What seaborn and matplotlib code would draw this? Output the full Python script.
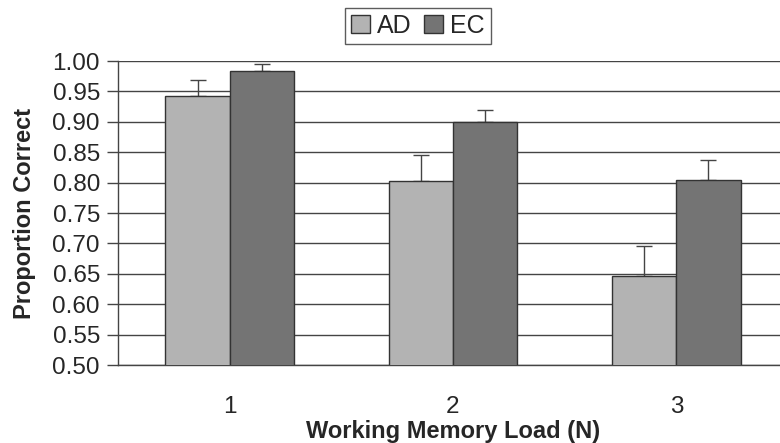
import matplotlib
matplotlib.use("Agg")
import matplotlib.pyplot as plt
import seaborn as sns
import pandas as pd
import numpy as np

loads = ["1", "2", "3"]
groups = ["AD", "EC"]
ad_means = [0.942, 0.803, 0.647]
ec_means = [0.984, 0.900, 0.804]
ad_err = [0.026, 0.042, 0.049]
ec_err = [0.011, 0.019, 0.033]
yticks = [0.50, 0.55, 0.60, 0.65, 0.70, 0.75, 0.80, 0.85, 0.90, 0.95, 1.00]

sns.set_theme(style="white")
plt.rcParams["font.family"] = ["Liberation Sans", "DejaVu Sans"]

df = pd.DataFrame({
    "load": loads * 2,
    "group": ["AD"] * 3 + ["EC"] * 3,
    "value": ad_means + ec_means,
    "err": ad_err + ec_err,
})

fig = plt.figure(figsize=(7.8, 4.43), dpi=100)
ax = fig.add_axes([118 / 780, 1 - 365 / 443, (788 - 118) / 780, (365 - 61) / 443])

palette = {"AD": "#b3b3b3", "EC": "#747474"}
sns.barplot(data=df, x="load", y="value", hue="group", order=loads, hue_order=groups,
            palette=palette, width=0.575, errorbar=None, edgecolor="#333333",
            linewidth=1.0, ax=ax, zorder=3)

# error bars (upper only)
for cont, g in zip(ax.containers, groups):
    sub = df[df["group"] == g].set_index("load").loc[loads]
    xs = [p.get_x() + p.get_width() / 2 for p in cont.patches]
    ax.errorbar(xs, sub["value"].values, yerr=[np.zeros(len(xs)), sub["err"].values],
                fmt="none", ecolor="#444444", elinewidth=1.0, capsize=5.5, capthick=1.0,
                zorder=2)

ax.set_ylim(0.5, 1.0)
ax.set_xlim(-0.5, 2.5)
ax.set_yticks(yticks)
ax.set_yticklabels([f"{v:.2f}" for v in yticks], fontsize=17.5)
ax.yaxis.grid(True, color="#444444", linewidth=1.0)
ax.set_axisbelow(True)

ax.set_xticks(range(len(loads)))
ax.set_xticklabels(loads, fontsize=17.5)
ax.set_xticks([-0.5, 0.5, 1.5, 2.5], minor=True)
ax.tick_params(axis="x", which="major", length=0, pad=22)
ax.tick_params(axis="x", which="minor", length=9, width=1, color="#444444", direction="out")
ax.tick_params(axis="y", length=8, width=1, color="#444444", direction="out", pad=5, left=True)

for s in ["top", "right"]:
    ax.spines[s].set_visible(False)
for s in ["left", "bottom"]:
    ax.spines[s].set_color("#444444")
    ax.spines[s].set_linewidth(1.0)

ax.set_xlabel("Working Memory Load (N)", fontsize=17, fontweight="bold", labelpad=2)
ax.set_ylabel("Proportion Correct", fontsize=17, fontweight="bold", labelpad=12)

ax.get_legend().remove()
handles, labels = ax.get_legend_handles_labels()
leg = fig.legend(handles, labels, loc="center", bbox_to_anchor=(418 / 780, 1 - 26 / 443),
                 ncol=2, fontsize=18, frameon=True, fancybox=False, handlelength=0.75,
                 handleheight=0.75, handletextpad=0.3, columnspacing=0.5, borderpad=0.25,
                 borderaxespad=0)
leg.get_frame().set_edgecolor("#333333")
leg.get_frame().set_linewidth(1.0)

fig.savefig("out.png", dpi=100)
